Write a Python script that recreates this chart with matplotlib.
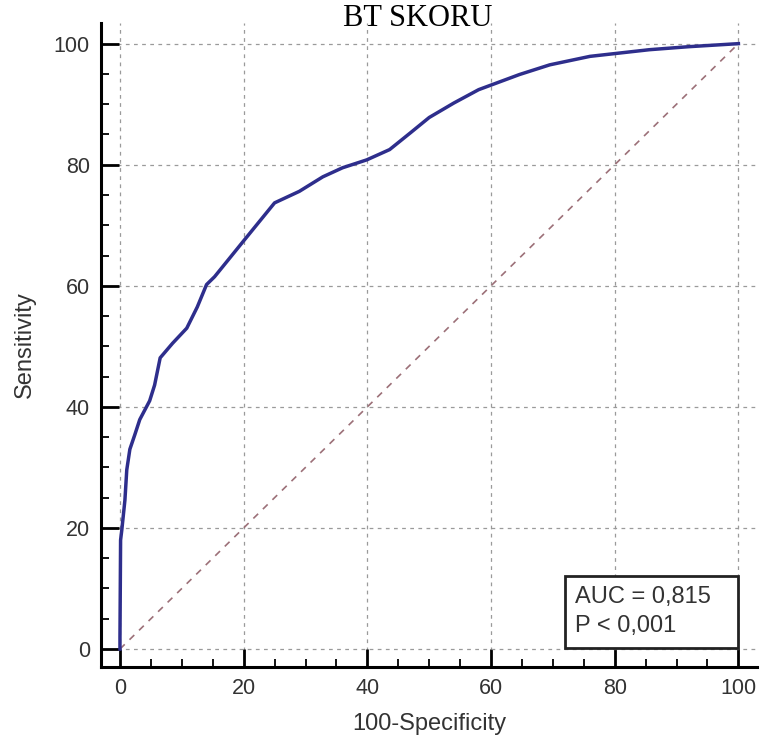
import numpy as np
import matplotlib.pyplot as plt
from matplotlib.ticker import MultipleLocator
from matplotlib.patches import Rectangle

# ROC curve points (100-specificity, sensitivity)
fpr = [0, 0, 0.1, 0.3, 0.8, 1.1, 1.6, 2.4, 3.2, 4.8, 5.6, 6.5, 8.5, 10.8, 12.5, 14.0,
       15.3, 19.9, 25.0, 29.0, 32.8, 36.0, 39.9, 43.6, 47.0, 50.0, 54.0, 58.0,
       64.6, 69.5, 76.0, 85.6, 92.0, 100]
tpr = [0, 2, 18, 19.7, 24.6, 29.6, 33.0, 35.4, 37.9, 41.0, 43.6, 48.1, 50.5, 53.0, 56.5, 60.2,
       61.5, 67.3, 73.7, 75.6, 78.0, 79.5, 80.8, 82.5, 85.3, 87.8, 90.2, 92.4,
       94.9, 96.5, 97.9, 99.0, 99.5, 100]
ticks = [0, 20, 40, 60, 80, 100]
stats_lines = ["AUC = 0,815", "P < 0,001"]

fig = plt.figure(figsize=(7.61, 7.44), dpi=100)
ax = fig.add_axes([0.1327, 0.1035, 0.862, 0.8655])

ax.plot([0, 100], [0, 100], color='#9c7078', lw=1.2, dashes=(4, 4), zorder=2)
ax.plot(fpr, tpr, color='#2e2e8c', lw=2.5, zorder=3, solid_joinstyle='round')

ax.set_xlim(-3.07, 103)
ax.set_ylim(-2.97, 103.4)
ax.set_xticks(ticks)
ax.set_yticks(ticks)
ax.xaxis.set_minor_locator(MultipleLocator(5))
ax.yaxis.set_minor_locator(MultipleLocator(5))

ax.grid(True, which='major', color='#9a9a9a', lw=0.9, dashes=(3, 3.5))
ax.set_axisbelow(True)

for s in ['top', 'right']:
    ax.spines[s].set_visible(False)
for s in ['left', 'bottom']:
    ax.spines[s].set_linewidth(2.2)

ax.tick_params(which='major', direction='in', length=13, width=2, labelsize=15.5, pad=8)
ax.tick_params(which='minor', direction='in', length=6, width=1.3)
for lab in ax.get_xticklabels() + ax.get_yticklabels():
    lab.set_family('Liberation Sans')
    lab.set_color('#333333')

ax.set_xlabel('100-Specificity', family='Liberation Sans', fontsize=17, labelpad=10,
              color='#333333')
ax.set_ylabel('Sensitivity', family='Liberation Sans', fontsize=17, labelpad=13,
              color='#333333')
fig.text(0.549, 0.975, 'BT SKORU', family='Liberation Serif', fontsize=22,
         ha='center', va='center')

# statistics box
ax.add_patch(Rectangle((0.7067, 0.0295), 0.265, 0.1118, transform=ax.transAxes,
                       fc='white', ec='#222222', lw=2, zorder=5))
ax.text(0.722, 0.0994, stats_lines[0], transform=ax.transAxes, family='Liberation Sans',
        fontsize=17, va='baseline', ha='left', color='#333333', zorder=6)
ax.text(0.722, 0.0543, stats_lines[1], transform=ax.transAxes, family='Liberation Sans',
        fontsize=17, va='baseline', ha='left', color='#333333', zorder=6)

fig.savefig('out.png', dpi=100)
